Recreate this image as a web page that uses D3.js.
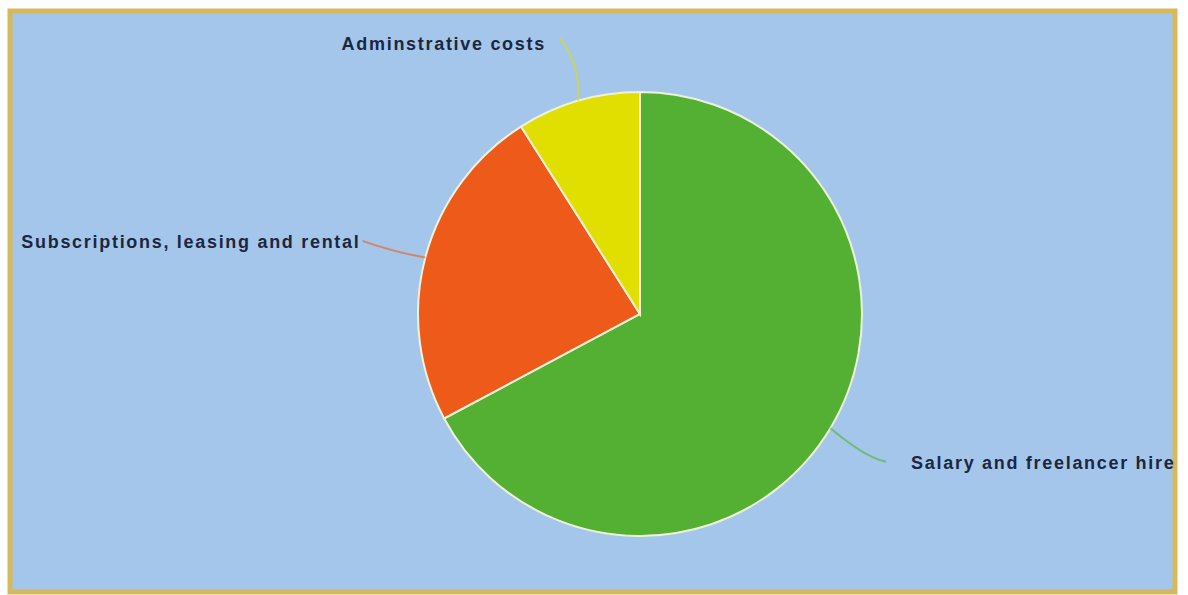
<!DOCTYPE html>
<html>
<head>
<meta charset="utf-8">
<script src="https://cdn.jsdelivr.net/npm/d3@7"></script>
<style>
  body{margin:0;background:#fff;}
  svg{display:block;}
</style>
</head>
<body>
<svg id="chart" width="1188" height="595"></svg>
<script>
// data
var categories=["Salary and freelancer hire","Subscriptions, leasing and rental","Adminstrative costs"];
var values=[67.2,23.8,9];
var colors=["#53b032","#ee5a1a","#e0df00"];

var svg=d3.select("#chart"),
 width=+svg.attr("width"),
 height=+svg.attr("height");

//frame
svg.append("rect")
  .attr("x",10).attr("y",11)
  .attr("width",1165).attr("height",581)
  .attr("fill","#a4c6eb")
  .attr("stroke","#d6b95a")
  .attr("stroke-width",5);

var cx=640, cy=314, r=222;
var g=svg.append("g").attr("transform","translate("+cx+","+cy+")");

var pie=d3.pie().sort(null).value(function(d){return d;});
var arcs=pie(values);
var arc=d3.arc().innerRadius(0).outerRadius(r);

g.selectAll(".slice")
  .data(arcs)
  .enter().append("path")
  .attr("class","slice")
  .attr("d",arc)
  .attr("fill",function(d,i){return colors[i];})
  .attr("stroke","#eef3d8")
  .attr("stroke-width",2);

//leader lines and labels
function pt(a,rad){return [rad*Math.sin(a),-rad*Math.cos(a)];}
var gaps=[25,2,14];

arcs.forEach(function(d,i){
  var mid=(d.startAngle+d.endAngle)/2;
  var p0=pt(mid,r), p1=pt(mid,r+35), p2=pt(mid,r+65);
  var right=Math.sin(mid)>0;
  var path=d3.path();
  path.moveTo(p0[0],p0[1]);
  if(right){
    path.quadraticCurveTo(p1[0]+6,p1[1]+12,p2[0],p2[1]);
  }else if(i==2){
    path.quadraticCurveTo(p1[0]+12,p1[1]-4,p2[0],p2[1]);
  }else{
    path.quadraticCurveTo(p1[0]+4,p1[1]+4,p2[0],p2[1]);
  }
  g.append("path")
    .attr("d",path.toString())
    .attr("fill","none")
    .attr("stroke",colors[i])
    .attr("stroke-opacity",0.6)
    .attr("stroke-width",2);
  g.append("text")
    .attr("x",right?p2[0]+gaps[i]:p2[0]-gaps[i])
    .attr("y",p2[1]+(i==2?5:1))
    .attr("dy","0.35em")
    .attr("text-anchor",right?"start":"end")
    .attr("font-family","Liberation Sans, Arial, sans-serif")
    .attr("font-weight","bold")
    .attr("font-size",18)
    .attr("letter-spacing",1.7)
    .attr("fill","#1c2640")
    .text(categories[i]);
});
</script>
</body>
</html>
